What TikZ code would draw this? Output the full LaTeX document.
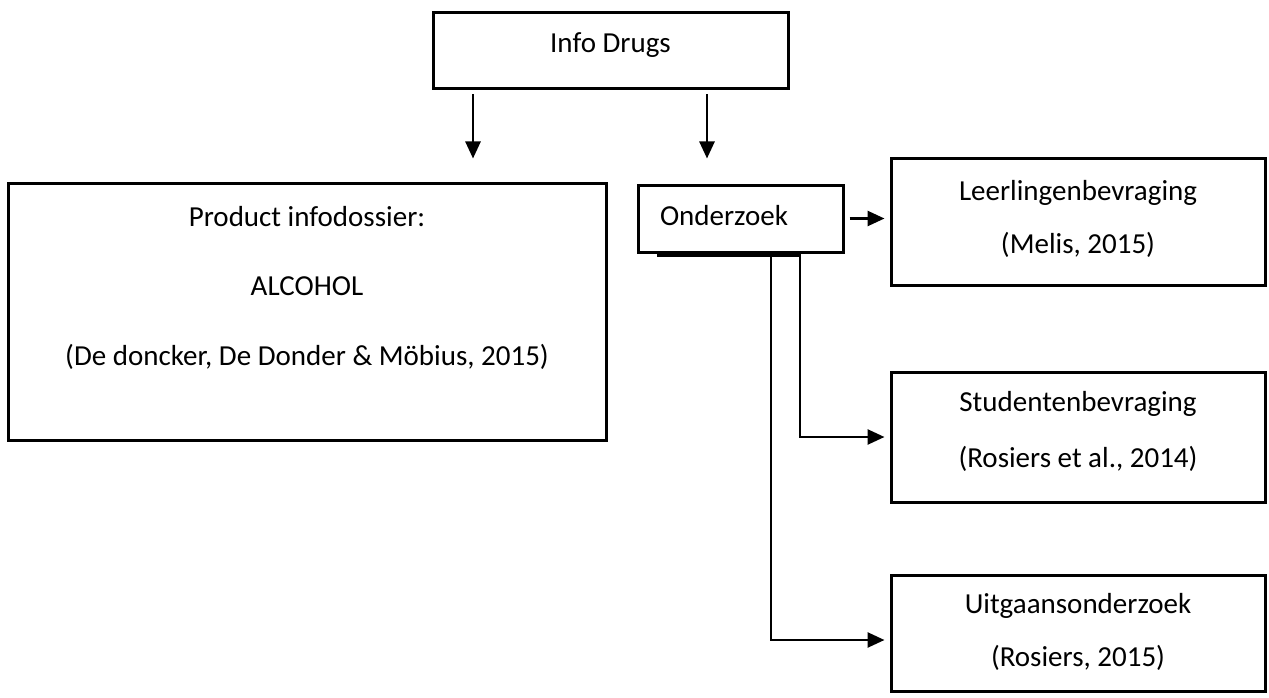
\documentclass[tikz,border=0pt]{standalone}
\usepackage{fontspec}
\setmainfont{Carlito}
\usetikzlibrary{arrows.meta}
\newcommand\mylines[1]{\vtop{\halign{\hfil##\hfil\cr#1\crcr}}}
\begin{document}
\begin{tikzpicture}[x=1pt,y=-1pt,
  box/.style={draw, line width=3pt, inner sep=0pt, text height=20pt},
  txt/.style={font=\fontsize{29}{#1}\selectfont},
  arr/.style={-{Triangle[length=17pt,width=15pt]}, line width=2.6pt},
  conn/.style={line width=2.6pt}]
\useasboundingbox (0,0) rectangle (1269,698);
% boxes
\node[box, txt=35, minimum width=355pt, minimum height=76pt, text depth=16pt] (info) at (610.5,51) {Info Drugs};
\node[box, txt=69.5, minimum width=598pt, minimum height=257pt, text depth=191pt] (product) at (307,311.5)
  {\mylines{Product infodossier:\cr ALCOHOL\cr (De doncker, De Donder \& Möbius, 2015)}};
\node[box, txt=35, minimum width=205pt, minimum height=67pt, text depth=7pt, inner xsep=22pt] (onder) at (740.5,218.5)
  {\hbox to 161pt{Onderzoek\hfil}};
\node[box, txt=53, minimum width=374pt, minimum height=126pt, text depth=64pt] (leer) at (1078,222)
  {\mylines{Leerlingenbevraging\cr (Melis, 2015)}};
\node[box, txt=56, minimum width=374pt, minimum height=130pt, text depth=72pt] (stud) at (1078,437)
  {\mylines{Studentenbevraging\cr (Rosiers et al., 2014)}};
\node[box, txt=53, minimum width=374pt, minimum height=116pt, text depth=60pt] (uit) at (1078,633)
  {\mylines{Uitgaansonderzoek\cr (Rosiers, 2015)}};
% helper coordinates for connector columns
\coordinate (x1) at (473,0);
\coordinate (x2) at (707,0);
\coordinate (v1) at (771,0);
\coordinate (v2) at (800,0);
% connectors
\draw[arr, shorten <=4pt, shorten >=23pt] (info.south -| x1) -- (product.north -| x1);
\draw[arr, shorten <=4pt, shorten >=25pt] (info.south -| x2) -- (onder.north -| x2);
\draw[arr, shorten <=5pt, shorten >=5pt] (onder.east) -- (leer.west |- onder.east);
\draw[line width=3.4pt] ([shift={(-83.5,1.5)}]onder.south) -- ([shift={(59.5,1.5)}]onder.south);
\draw[arr, shorten >=5pt] (onder.south -| v2) |- (stud.west);
\draw[arr, shorten >=5pt] (onder.south -| v1) |- ([yshift=-7pt]uit.west);
\end{tikzpicture}
\end{document}
